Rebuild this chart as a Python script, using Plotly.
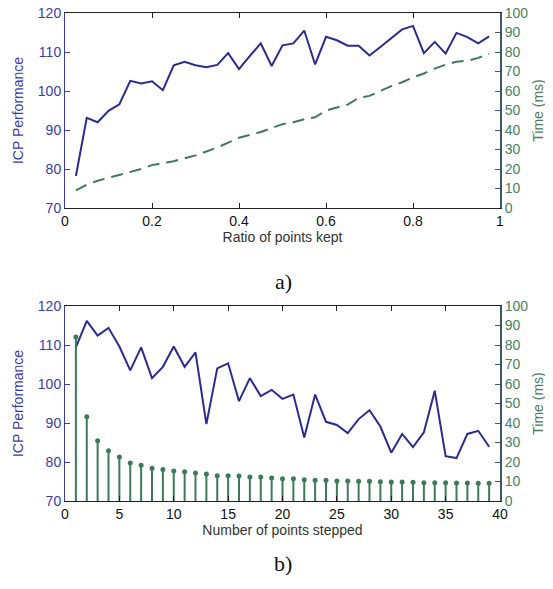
import plotly.graph_objects as go

# ---- Data (a) ----
ratio = [0.025, 0.05, 0.075, 0.1, 0.125, 0.15, 0.175, 0.2, 0.225, 0.25, 0.275, 0.3, 0.325,
         0.35, 0.375, 0.4, 0.425, 0.45, 0.475, 0.5, 0.525, 0.55, 0.575, 0.6, 0.625, 0.65,
         0.675, 0.7, 0.725, 0.75, 0.775, 0.8, 0.825, 0.85, 0.875, 0.9, 0.925, 0.95, 0.975]
perf_a = [78.2, 93.1, 92.0, 94.9, 96.6, 102.6, 101.9, 102.5, 100.2, 106.6, 107.5, 106.6, 106.1,
          106.7, 109.7, 105.6, 109.0, 112.2, 106.4, 111.7, 112.2, 115.5, 106.8, 113.9, 113.0, 111.6,
          111.6, 109.1, 111.3, 113.5, 115.8, 116.7, 109.7, 112.6, 109.6, 114.9, 113.8, 112.2, 114.0]
time_a = [9, 12, 14, 15.5, 17, 18.5, 20, 22, 23, 24, 25.5, 27, 29,
          31, 33.5, 36, 37.5, 39, 41, 43, 44, 45.5, 46.5, 50, 51.5, 53,
          56.5, 57.5, 60, 62.5, 64.5, 67, 69, 71.5, 73.5, 75, 75.5, 77, 79]

# ---- Data (b) ----
steps = list(range(1, 40))
perf_b = [109.4, 116.2, 112.4, 114.4, 109.6, 103.5, 109.4, 101.5, 104.4, 109.6, 104.4, 108.1, 89.7,
          104.0, 105.3, 95.6, 101.5, 96.9, 98.5, 96.2, 97.3, 86.3, 97.3, 90.3, 89.5, 87.4,
          91.0, 93.3, 89.1, 82.4, 87.2, 83.8, 87.6, 98.3, 81.5, 81.0, 87.2, 88.0, 83.9]
time_b = [84.1, 43.2, 30.9, 25.8, 22.6, 19.5, 18.3, 16.8, 16.1, 15.4, 15.0, 14.4, 13.8,
          13.0, 13.0, 12.8, 12.3, 12.3, 11.8, 11.4, 11.4, 10.9, 10.6, 10.6, 10.3, 10.3,
          10.1, 10.1, 9.9, 9.7, 9.7, 9.6, 9.4, 9.4, 9.4, 9.2, 9.2, 9.1, 9.1]

x_ticks_a = [0, 0.2, 0.4, 0.6, 0.8, 1]
x_ticktext_a = ["0", "0.2", "0.4", "0.6", "0.8", "1"]

BLUE = "#2c2c90"
GREEN = "#3e7a58"
LBLUE = "#3c3ca8"
LGREEN = "#4b8062"
SLATE = "#3d5866"
FONT = "Liberation Sans, Arial, sans-serif"
FS = 14

# page body has an 8px default margin; figure sized to fill the rest of the window
OFF = 8
W, H = 553 - OFF, 589 - OFF
def px(x):
    return (x - OFF) / W
def py(y):
    return 1 - (y - OFF) / H

fig = go.Figure()

fig.add_trace(go.Scatter(x=ratio, y=perf_a, mode="lines", line=dict(color=BLUE, width=2),
                         xaxis="x", yaxis="y", showlegend=False))
fig.add_trace(go.Scatter(x=ratio, y=time_a, mode="lines",
                         line=dict(color=GREEN, width=2, dash="12px,7px"),
                         xaxis="x", yaxis="y2", showlegend=False))

fig.add_trace(go.Scatter(x=steps, y=time_b, mode="markers",
                         marker=dict(color=GREEN, size=5),
                         error_y=dict(type="data", symmetric=False, array=[0] * len(time_b),
                                      arrayminus=time_b, color=GREEN, thickness=2, width=0),
                         xaxis="x2", yaxis="y4", showlegend=False))
fig.add_trace(go.Scatter(x=steps, y=perf_b, mode="lines", line=dict(color=BLUE, width=2),
                         xaxis="x2", yaxis="y3", showlegend=False))

xdom = [px(65), px(500)]
tickfont_x = dict(family=FONT, size=FS, color="#111111")
common_x = dict(domain=xdom, showline=True, linecolor="#222222", linewidth=1, mirror="ticks",
                ticks="inside", ticklen=5, tickcolor="#222222", tickfont=tickfont_x,
                showgrid=False, zeroline=False, automargin=False, ticklabeloverflow="allow",
                title_font=dict(family=FONT, size=FS, color="#333333"), title_standoff=3)
left_y = dict(showline=True, linecolor=LBLUE, linewidth=1, ticks="inside", ticklen=5, tickcolor=LBLUE,
              tickfont=dict(family=FONT, size=FS, color=LBLUE), showgrid=False, zeroline=False,
              automargin=False, ticklabeloverflow="allow", range=[70, 120], dtick=10,
              title_font=dict(family=FONT, size=FS, color=LBLUE), title_standoff=10)
right_y = dict(showline=True, linecolor=SLATE, linewidth=2, ticks="inside", ticklen=5, tickcolor=SLATE,
               tickfont=dict(family=FONT, size=FS, color=LGREEN), showgrid=False, zeroline=False,
               automargin=False, ticklabeloverflow="allow", range=[0, 100], dtick=10, side="right",
               title_font=dict(family=FONT, size=FS, color=LGREEN), title_standoff=6)

fig.update_layout(
    width=W, height=H, margin=dict(l=0, r=0, t=0, b=0),
    paper_bgcolor="white", plot_bgcolor="white",
    xaxis=dict(common_x, anchor="y", range=[0, 1],
               tickvals=x_ticks_a, ticktext=x_ticktext_a,
               title_text="Ratio of points kept"),
    yaxis=dict(left_y, domain=[py(208), py(13)], anchor="x", title_text="ICP Performance"),
    yaxis2=dict(right_y, domain=[py(208), py(13)], anchor="x", overlaying="y", title_text="Time (ms)"),
    xaxis2=dict(common_x, anchor="y3", range=[0, 40], dtick=5, title_text="Number of points stepped"),
    yaxis3=dict(left_y, domain=[py(501), py(306)], anchor="x2", title_text="ICP Performance"),
    yaxis4=dict(right_y, domain=[py(501), py(306)], anchor="x2", overlaying="y3", title_text="Time (ms)"),
)

fig.add_annotation(text="a)", x=px(283), y=py(282), xref="paper", yref="paper", showarrow=False,
                   font=dict(family="Liberation Serif, Times New Roman, serif", size=22, color="#111111"))
fig.add_annotation(text="b)", x=px(283), y=py(578), xref="paper", yref="paper", showarrow=False,
                   font=dict(family="Liberation Serif, Times New Roman, serif", size=22, color="#111111"))

fig.write_html("out.html")
